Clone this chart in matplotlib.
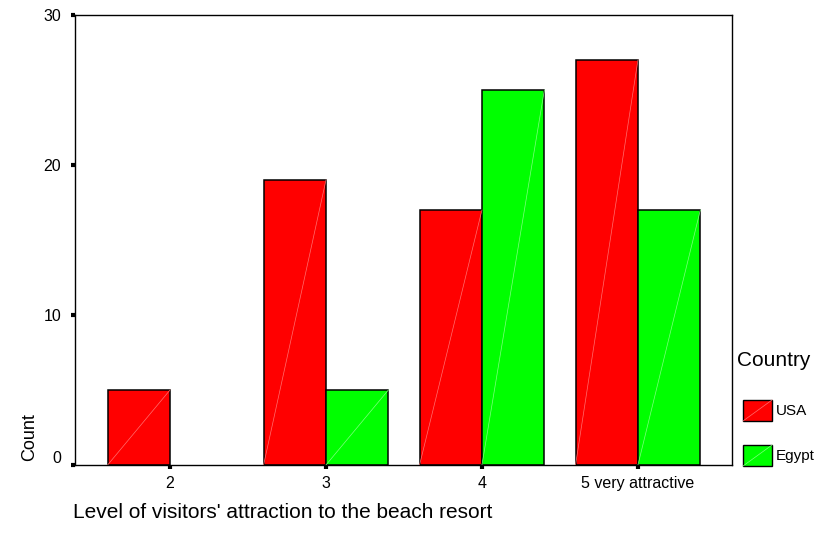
import matplotlib
matplotlib.use("Agg")
import matplotlib.pyplot as plt
from matplotlib.patches import Rectangle
from matplotlib.transforms import ScaledTranslation
import numpy as np

categories = ["2", "3", "4", "5 very attractive"]
usa = [5, 19, 17, 27]
egypt = [0, 5, 25, 17]
series_names = ["USA", "Egypt"]
colors = ["#FF0000", "#00FF00"]
diag_colors = ["#FF7070", "#80FF80"]
yticks = [0, 10, 20, 30]

plt.rcParams['font.family'] = ['Liberation Sans', 'DejaVu Sans']

fig = plt.figure(figsize=(8.22, 5.46), dpi=100)
W, H = 822, 546
ax = fig.add_axes([75 / W, 1 - 465 / H, (732 - 75) / W, (465 - 15) / H])

x = np.arange(len(categories))
w = 0.4
for vals, off, c, dc in [(usa, -w / 2, colors[0], diag_colors[0]),
                         (egypt, w / 2, colors[1], diag_colors[1])]:
    bars = ax.bar(x + off, vals, width=w, color=c, edgecolor='black', linewidth=1.1, zorder=2)
    for b in bars:
        h = b.get_height()
        if h > 0:
            x0 = b.get_x()
            ax.plot([x0, x0 + b.get_width()], [0, h], color=dc, linewidth=0.5, zorder=3)
        else:
            b.set_linewidth(0)

ax.set_xlim(-0.609, 3.603)
ax.set_ylim(0, 30)
ax.set_xticks(x)
ax.set_xticklabels(categories, fontsize=11.5)
ax.set_yticks(yticks)
ax.set_yticklabels([str(t) for t in yticks], fontsize=11.5)
ax.tick_params(axis='both', direction='out', length=3, width=3, pad=5)
ax.tick_params(axis='y', pad=7)
for s in ax.spines.values():
    s.set_linewidth(1.0)
    s.set_color('black')

# the zero label sits a little above its tick in the reference
lbl0 = ax.get_yticklabels()[0]
lbl0.set_transform(lbl0.get_transform() + ScaledTranslation(0, 8 / 100, fig.dpi_scale_trans))

fig.text(30 / W, 1 - 437 / H, "Count", rotation=90, ha='center', va='center', fontsize=13)
fig.text(73 / W, 1 - 513 / H, "Level of visitors' attraction to the beach resort",
         ha='left', va='center', fontsize=15)

# legend
fig.text(737 / W, 1 - 360 / H, "Country", ha='left', va='center', fontsize=15)
for i, (name, c, dc) in enumerate(zip(series_names, colors, diag_colors)):
    y0 = 421 + 45 * i
    r = Rectangle((743 / W, 1 - y0 / H), 29 / W, 21 / H, transform=fig.transFigure,
                  facecolor=c, edgecolor='black', linewidth=1.0)
    fig.add_artist(r)
    fig.add_artist(plt.Line2D([743 / W, 772 / W], [1 - y0 / H, 1 - (y0 - 21) / H],
                              transform=fig.transFigure, color=dc, linewidth=0.5))
    fig.text(776 / W, 1 - (y0 - 10) / H, name, ha='left', va='center', fontsize=11)

fig.savefig("out.png", dpi=100)
